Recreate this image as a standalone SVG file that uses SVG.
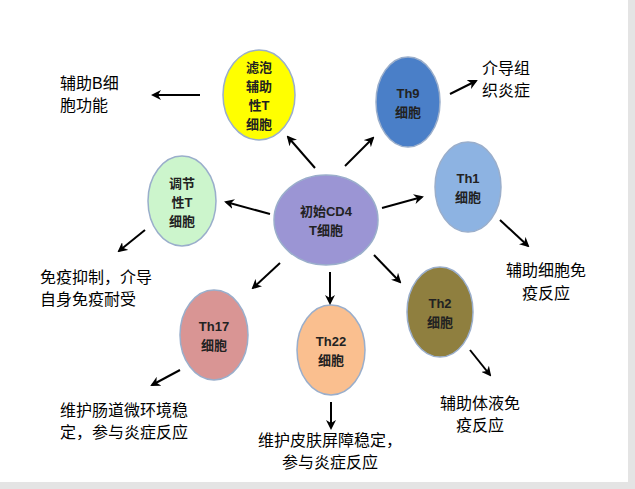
<svg xmlns="http://www.w3.org/2000/svg" width="635" height="489" viewBox="0 0 635 489">
<defs>
<marker id="ah" viewBox="0 0 10 10" refX="8" refY="5" markerWidth="5" markerHeight="5" orient="auto"><path d="M0,0 L10,5 L0,10 L3,5 Z" fill="#000"/></marker>
</defs>
<style>
.n{stroke:#9aaecb;stroke-width:1.5}
.nt{font-family:"Liberation Sans","Noto Sans CJK SC",sans-serif;font-size:13px;font-weight:bold;text-anchor:middle;fill:#222}
.t{font-family:"Liberation Sans","Noto Sans CJK SC",sans-serif;font-size:16px;fill:#000}
.c line{stroke:#000;stroke-width:2;marker-end:url(#ah)}
</style>
<rect width="635" height="489" fill="#fff"/>
<rect x="628" y="0" width="7" height="489" fill="#e4e4e4"/>
<rect x="0" y="482" width="635" height="7" fill="#e4e4e4"/>
<g id="center"><ellipse class="n" cx="326" cy="220" rx="52" ry="45" fill="#9b95d4"/><text class="nt" x="326" y="216">初始CD4</text><text class="nt" x="326" y="235">T细胞</text></g>
<g id="tfh"><ellipse class="n" cx="259" cy="95" rx="36" ry="45" fill="#ffff00"/><text class="nt" x="259" y="72">滤泡</text><text class="nt" x="259" y="91">辅助</text><text class="nt" x="259" y="110">性T</text><text class="nt" x="259" y="129">细胞</text></g>
<g id="th9"><ellipse class="n" cx="408" cy="102" rx="32" ry="45" fill="#4a7fc8"/><text class="nt" x="408" y="98">Th9</text><text class="nt" x="408" y="117">细胞</text></g>
<g id="th1"><ellipse class="n" cx="468" cy="187" rx="33" ry="45" fill="#8db3e2"/><text class="nt" x="468" y="183">Th1</text><text class="nt" x="468" y="202">细胞</text></g>
<g id="treg"><ellipse class="n" cx="182" cy="201" rx="34" ry="45" fill="#ccf5cc"/><text class="nt" x="182" y="188">调节</text><text class="nt" x="182" y="207">性T</text><text class="nt" x="182" y="226">细胞</text></g>
<g id="th17"><ellipse class="n" cx="214" cy="335" rx="34" ry="45" fill="#d99594"/><text class="nt" x="214" y="331">Th17</text><text class="nt" x="214" y="350">细胞</text></g>
<g id="th22"><ellipse class="n" cx="331" cy="350" rx="34" ry="45" fill="#fabf8f"/><text class="nt" x="331" y="346">Th22</text><text class="nt" x="331" y="365">细胞</text></g>
<g id="th2"><ellipse class="n" cx="440" cy="312" rx="33" ry="45" fill="#8f7f3f"/><text class="nt" x="440" y="308">Th2</text><text class="nt" x="440" y="327">细胞</text></g>
<g class="c">
<line x1="315" y1="168" x2="288" y2="137"/>
<line x1="345" y1="166" x2="373" y2="138"/>
<line x1="382" y1="208" x2="422" y2="197"/>
<line x1="270" y1="214" x2="226" y2="202"/>
<line x1="200" y1="95" x2="153" y2="95"/>
<line x1="450" y1="94" x2="476" y2="81"/>
<line x1="500" y1="220" x2="528" y2="246"/>
<line x1="145" y1="230" x2="119" y2="251"/>
<line x1="280" y1="263" x2="253" y2="288"/>
<line x1="330" y1="272" x2="330" y2="303"/>
<line x1="374" y1="255" x2="400" y2="282"/>
<line x1="180" y1="370" x2="152" y2="385"/>
<line x1="331" y1="402" x2="331" y2="428"/>
<line x1="470" y1="350" x2="490" y2="375"/>
</g>
<text class="t" x="60" y="89">辅助B细</text><text class="t" x="60" y="111">胞功能</text>
<text class="t" x="482" y="74">介导组</text><text class="t" x="482" y="96">织炎症</text>
<text class="t" x="546" y="276" text-anchor="middle">辅助细胞免</text><text class="t" x="546" y="299" text-anchor="middle">疫反应</text>
<text class="t" x="40" y="283">免疫抑制，介导</text><text class="t" x="40" y="305">自身免疫耐受</text>
<text class="t" x="60" y="416">维护肠道微环境稳</text><text class="t" x="60" y="438">定，参与炎症反应</text>
<text class="t" x="330" y="446" text-anchor="middle">维护皮肤屏障稳定，</text><text class="t" x="330" y="468" text-anchor="middle">参与炎症反应</text>
<text class="t" x="480" y="409" text-anchor="middle">辅助体液免</text><text class="t" x="480" y="431" text-anchor="middle">疫反应</text>
</svg>
